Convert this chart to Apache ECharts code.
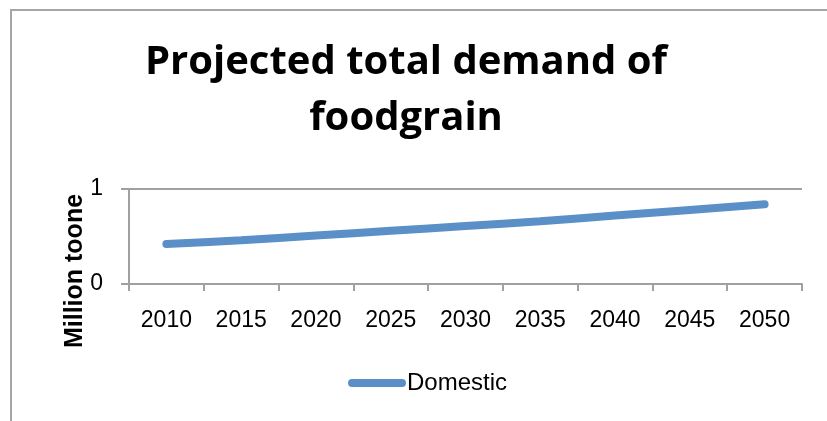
<!DOCTYPE html>
<html>
<head>
<meta charset="utf-8">
<title>Projected total demand of foodgrain</title>
<script src="https://cdn.jsdelivr.net/npm/echarts@6/dist/echarts.min.js"></script>
<style>
  html, body { margin: 0; padding: 0; background: #fff; }
  #chart { width: 827px; height: 421px; }
</style>
</head>
<body>
<div id="chart"></div>
<script>
  const years = ['2010', '2015', '2020', '2025', '2030', '2035', '2040', '2045', '2050'];
  const domestic = [0.42, 0.46, 0.51, 0.56, 0.61, 0.66, 0.72, 0.78, 0.84];
  const yTicks = [0, 1];

  const lineColor = '#5b8fc7';
  const axisGray = '#a0a0a0';
  const labelFont = '"Liberation Sans", Arial, sans-serif';

  const chart = echarts.init(document.getElementById('chart'));

  chart.setOption({
    animation: false,
    title: {
      text: 'Projected total demand of\nfoodgrain',
      left: 401,
      top: 30,
      textAlign: 'center',
      textStyle: {
        fontFamily: '"Open Sans", sans-serif',
        fontWeight: 'bold',
        fontSize: 40,
        lineHeight: 56,
        color: '#000',
      },
    },
    graphic: [
      {
        type: 'rect',
        shape: { x: 11, y: 10, width: 1000, height: 1000 },
        style: { fill: 'none', stroke: '#a6a6a6', lineWidth: 2 },
        silent: true,
      },
      {
        type: 'text',
        x: 75,
        y: 271,
        rotation: Math.PI / 2,
        style: {
          text: 'Million toone',
          fontFamily: labelFont,
          fontWeight: 'bold',
          fontSize: 25,
          fill: '#000',
          align: 'center',
          verticalAlign: 'middle',
        },
      },
    ],
    legend: {
      data: ['Domestic'],
      left: 343,
      top: 366,
      itemWidth: 58,
      itemHeight: 8,
      icon: 'path://M4,0 H54 A4,4 0 0 1 54,8 H4 A4,4 0 0 1 4,0 Z',
      textStyle: {
        fontFamily: labelFont,
        fontSize: 24,
        color: '#000',
        padding: [0, 0, 0, -4],
      },
    },
    grid: {
      left: 129,
      right: 25,
      top: 189,
      bottom: 137,
      containLabel: false,
    },
    xAxis: {
      type: 'category',
      data: years,
      boundaryGap: true,
      axisLine: { lineStyle: { color: axisGray, width: 2 } },
      axisTick: { show: true, length: 7, lineStyle: { color: axisGray, width: 2 } },
      axisLabel: {
        margin: 25,
        fontFamily: labelFont,
        fontSize: 23,
        color: '#000',
      },
    },
    yAxis: {
      type: 'value',
      min: yTicks[0],
      max: yTicks[yTicks.length - 1],
      interval: 1,
      axisLine: { show: true, lineStyle: { color: axisGray, width: 2 } },
      axisTick: { show: true, length: 8, lineStyle: { color: axisGray, width: 2 } },
      splitLine: { show: true, lineStyle: { color: axisGray, width: 2 } },
      axisLabel: {
        margin: 26,
        fontFamily: labelFont,
        fontSize: 23,
        color: '#000',
      },
    },
    series: [
      {
        name: 'Domestic',
        type: 'line',
        data: domestic,
        smooth: 0.3,
        showSymbol: false,
        symbol: 'none',
        itemStyle: { color: lineColor },
        lineStyle: { color: lineColor, width: 8, cap: 'round' },
      },
    ],
  });
</script>
</body>
</html>
